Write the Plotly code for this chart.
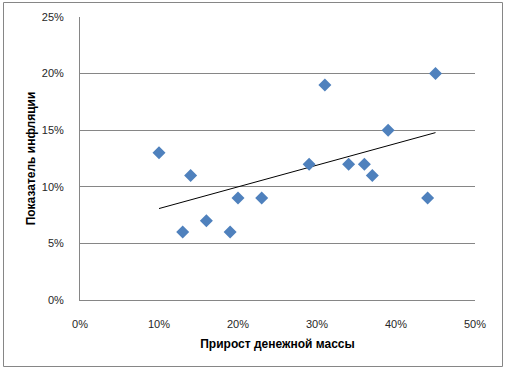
import numpy as np
import plotly.graph_objects as go

# Data (percent values)
money_growth = [10, 13, 14, 16, 19, 20, 23, 29, 31, 34, 36, 37, 39, 44, 45]
inflation = [13, 6, 11, 7, 6, 9, 9, 12, 19, 12, 12, 11, 15, 9, 20]
x_title = "Прирост денежной массы"
y_title = "Показатель инфляции"

xs = np.array(money_growth, dtype=float) / 100
ys = np.array(inflation, dtype=float) / 100
slope, intercept = np.polyfit(xs, ys, 1)
tx = np.array([xs.min(), xs.max()])
ty = slope * tx + intercept

W, H = 507, 371
L, R, T, B = 80, 32, 17, 71
pw, ph = W - L - R, H - T - B

fig = go.Figure()
fig.add_trace(go.Scatter(x=tx, y=ty, mode="lines",
                         line=dict(color="black", width=1), hoverinfo="skip",
                         showlegend=False))
fig.add_trace(go.Scatter(x=xs, y=ys, mode="markers",
                         marker=dict(symbol="diamond", size=10, color="#4F81BD",
                                     line=dict(width=0)),
                         showlegend=False))

def px_x(p):
    return (p - L) / pw

def px_y(p):
    return (H - B - p) / ph

fig.add_shape(type="rect", xref="paper", yref="paper",
              x0=px_x(3.5), x1=px_x(502.5), y0=px_y(366.5), y1=px_y(2.5),
              line=dict(color="#868686", width=1), fillcolor="rgba(0,0,0,0)",
              layer="below")

font_family = "Liberation Sans, Arial, sans-serif"
fig.update_layout(
    width=W, height=H,
    margin=dict(l=L, r=R, t=T, b=B, autoexpand=False),
    paper_bgcolor="white", plot_bgcolor="white",
    font=dict(family=font_family, size=11, color="#262626"),
    xaxis=dict(range=[0, 0.5], tickvals=[0, 0.1, 0.2, 0.3, 0.4, 0.5],
               tickformat=".0%", showgrid=False, zeroline=False,
               showline=True, linecolor="#868686", linewidth=1,
               ticks="outside", ticklen=14, tickcolor="rgba(0,0,0,0)",
               automargin=False,
               title=dict(text="<b>" + x_title + "</b>", font=dict(size=12, color="#000000"), standoff=10)),
    yaxis=dict(range=[0, 0.25], tickvals=[0, 0.05, 0.1, 0.15, 0.2, 0.25],
               tickformat=".0%", showgrid=True, gridcolor="#868686", gridwidth=1,
               zeroline=False, showline=True, linecolor="#868686", linewidth=1,
               ticks="outside", ticklen=13, tickcolor="rgba(0,0,0,0)",
               automargin=False,
               title=dict(text="<b>" + y_title + "</b>", font=dict(size=12, color="#000000"), standoff=3)),
)

fig.write_html("out.html", config={"displayModeBar": False},
               post_script="document.body.style.margin='0';")
